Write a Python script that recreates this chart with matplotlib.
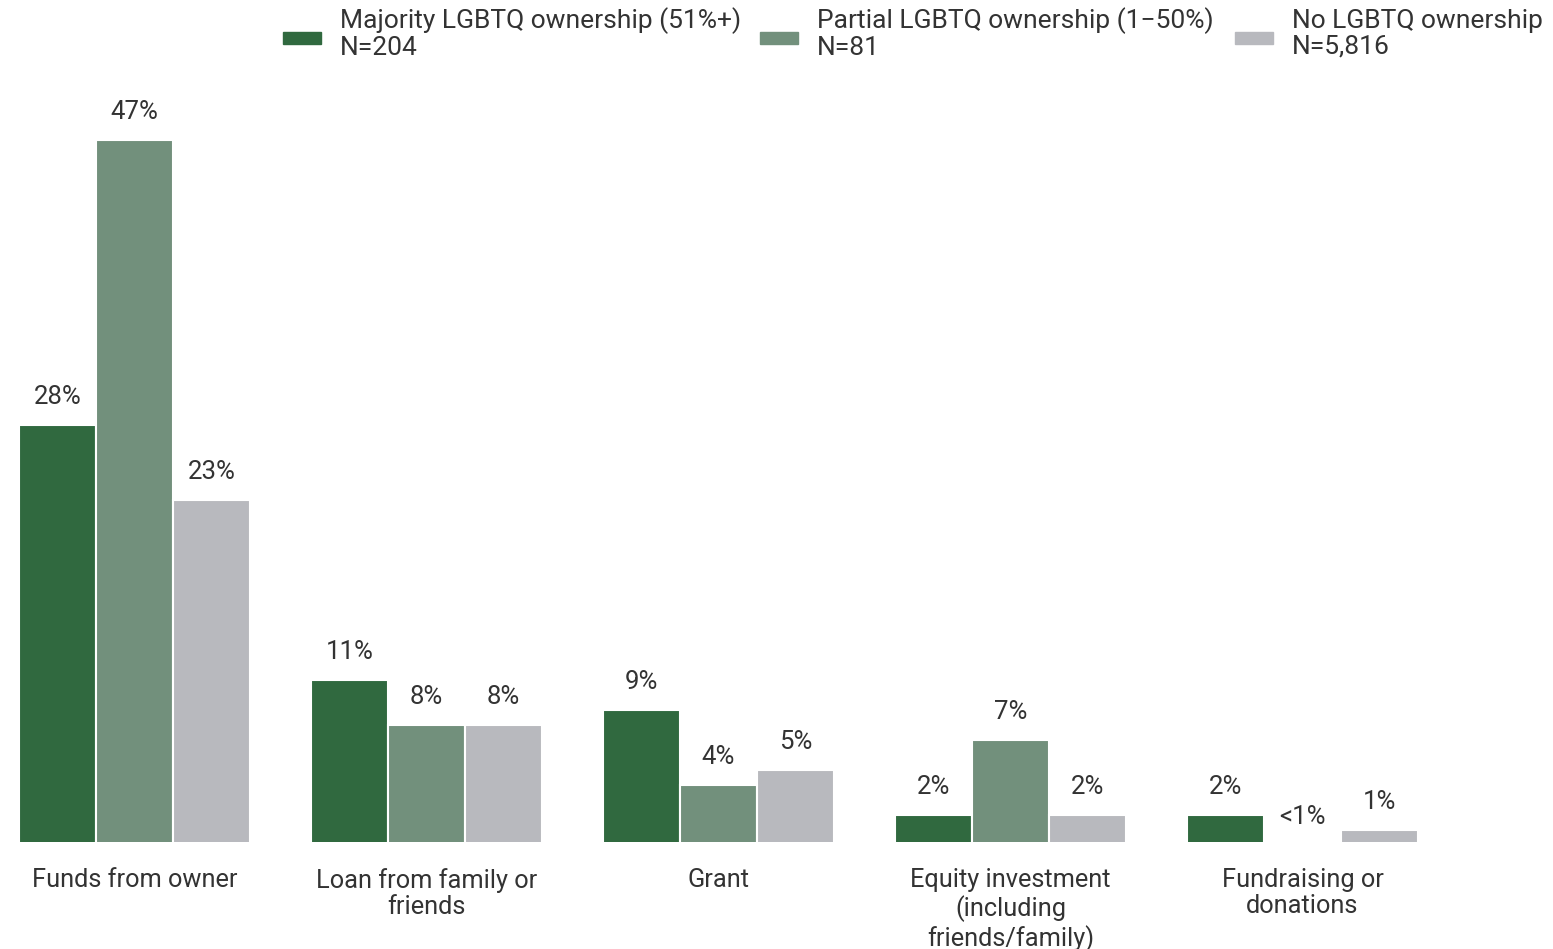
import numpy as np
import matplotlib
matplotlib.use("Agg")
import matplotlib.pyplot as plt
from matplotlib.patches import Rectangle

plt.rcParams['font.family'] = ['Roboto', 'DejaVu Sans']

categories = ["Funds from owner", "Loan from family or\nfriends", "Grant",
              "Equity investment\n(including\nfriends/family)", "Fundraising or\ndonations"]
series_names = ["Majority LGBTQ ownership (51%+)\nN=204",
                "Partial LGBTQ ownership (1\u221250%)\nN=81",
                "No LGBTQ ownership\nN=5,816"]
majority = [28, 11, 9, 2, 2]
partial = [47, 8, 4, 7, 0]
no_lgbtq = [23, 8, 5, 2, 1]
value_labels = [["28%", "11%", "9%", "2%", "2%"],
                ["47%", "8%", "4%", "7%", "<1%"],
                ["23%", "8%", "5%", "2%", "1%"]]
colors = ["#30693F", "#72907C", "#B8B9BE"]
text_color = "#333333"

fig = plt.figure(figsize=(15.53, 9.49), dpi=100)
ax = fig.add_axes([0, 0.1128, 1, 0.7818])

x = np.arange(len(categories))
width = 0.264
all_series = [majority, partial, no_lgbtq]
for i, vals in enumerate(all_series):
    pos = x + (i - 1) * width
    ax.bar(pos, vals, width, color=colors[i], edgecolor="white", linewidth=1.5)
    for p, v, lab in zip(pos, vals, value_labels[i]):
        ax.annotate(lab, (p, v), xytext=(0, 20), textcoords="offset points",
                    ha="center", va="center", fontsize=18.5, color=text_color,
                    annotation_clip=False)

ax.set_xlim(-0.4606, 4.858)
ax.set_ylim(0.2, 49.67)
ax.axis("off")

# category labels below the bars
for xi, cat in zip(x, categories):
    ax.annotate(cat, (xi, 0.2), xytext=(0, -18.5), textcoords="offset points",
                ha="center", va="top", fontsize=18.3, color=text_color,
                linespacing=1.15, annotation_clip=False)

# legend across the top
leg_x = [283, 760, 1235]
W, H = 1553.0, 949.0
for lx, name, c in zip(leg_x, series_names, colors):
    fig.patches.append(Rectangle((lx / W, 1 - 44 / H), 38 / W, 12 / H,
                                 transform=fig.transFigure, color=c))
    fig.text((lx + 57) / W, 1 - 34 / H, name, ha="left", va="center",
             fontsize=19, color=text_color, linespacing=1.1)

fig.savefig("out.png", dpi=100)
